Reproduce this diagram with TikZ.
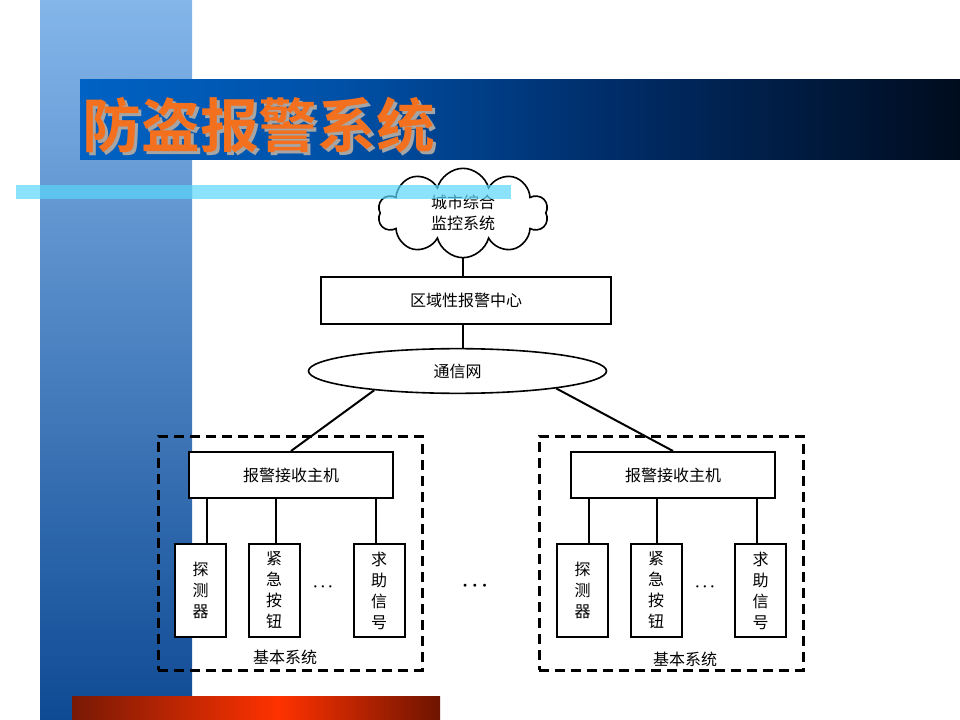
\documentclass[tikz,border=0pt]{standalone}
\usepackage{fontspec}
\setmainfont{Noto Sans CJK SC}
\newfontfamily\titlefont{Noto Sans CJK SC Bold}
\usetikzlibrary{shapes.geometric,shapes.symbols,positioning}

% 顏色
\definecolor{stripTop}{RGB}{132,182,234}
\definecolor{stripBot}{RGB}{14,74,148}
\definecolor{barCyan}{RGB}{90,215,250}
\definecolor{titleOrange}{RGB}{242,112,30}
\definecolor{titleShadow}{RGB}{165,165,165}
\definecolor{bandA}{RGB}{0,98,196}
\definecolor{bandB}{RGB}{0,80,166}
\definecolor{bandC}{RGB}{0,45,105}
\definecolor{bandD}{RGB}{0,12,30}
\definecolor{redA}{RGB}{120,25,5}
\definecolor{redB}{RGB}{255,50,0}
\definecolor{redC}{RGB}{110,20,0}

\pgfdeclarehorizontalshading{titleband}{100bp}{color(0bp)=(bandA); color(25bp)=(bandA);
  color(40bp)=(bandB); color(55bp)=(bandC); color(75bp)=(bandD); color(100bp)=(bandD)}
\pgfdeclarehorizontalshading{redbar}{100bp}{color(0bp)=(redA); color(25bp)=(redA);
  color(53bp)=(redB); color(75bp)=(redC); color(100bp)=(redC)}

\newcommand\diagfont{\fontsize{12pt}{15.75pt}\selectfont}

\tikzset{
  mainbox/.style={draw, line width=1.5pt, fill=white, inner sep=0pt, font=\diagfont},
  itembox/.style={mainbox, minimum width=38.25pt, minimum height=69.75pt, align=center},
  hostbox/.style={mainbox, minimum width=153pt, minimum height=34.5pt},
  groupbox/.style={draw, line width=2.25pt, dash pattern=on 7.5pt off 4.5pt,
    minimum width=198pt, minimum height=175.5pt, inner sep=0pt},
  link/.style={line width=1.5pt},
  dotstext/.style={font=\fontsize{11pt}{11pt}\selectfont\boldmath}
}

\begin{document}
\begin{tikzpicture}[x=0.75pt, y=-0.75pt]
    \useasboundingbox (0,0) rectangle (960,720);

    % 背景
    \shade[top color=stripTop, bottom color=stripBot] (40,0) rectangle (192,720);
    \shade[shading=titleband] (80,80) rectangle (960,160);
    \shade[shading=redbar] (72,696) rectangle (440,720);

    % 標題
    \node[anchor=west, text=titleShadow, font=\titlefont\fontsize{44pt}{44pt}\selectfont] at (81,128) {防盗报警系统};
    \node[anchor=west, text=titleOrange, font=\titlefont\fontsize{44pt}{44pt}\selectfont] (title) at (78,125) {防盗报警系统};

    % 上層
    \node[cloud, cloud puffs=10, aspect=2, draw, line width=1.2pt, fill=white,
      minimum width=127.5pt, minimum height=67pt, inner sep=0pt,
      align=center, font=\diagfont] (cloud) at (463,213) {城市综合\\监控系统};
    \fill[barCyan, opacity=0.7] (16,185) rectangle (511,199);

    \node[mainbox, minimum width=217.5pt, minimum height=34.5pt] (region) at (466,300.5) {区域性报警中心};
    \node[ellipse, draw, line width=1.2pt, fill=white, inner sep=0pt,
      minimum width=223.5pt, minimum height=33.5pt, font=\diagfont] (net) at (457.5,371) {通信网};

    % 基本系統 (左)
    \node[groupbox] (groupL) at (290,553) {};
    \node[hostbox] (hostL) at (291,475) {报警接收主机};
    \node[itembox] (detL) at (200.5,590.5) {探\\测\\器};
    \node[itembox] (btnL) at (274,590.5) {紧\\急\\按\\钮};
    \node[itembox] (sosL) at (379,590.5) {求\\助\\信\\号};
    \node[dotstext] (dotsL) at (323,587) {$\cdots$};
    \node[font=\diagfont] (baseL) at (285,657) {基本系统};

    % 基本系統 (右)
    \node[groupbox] (groupR) at (671,553) {};
    \node[hostbox] (hostR) at (673,475) {报警接收主机};
    \node[itembox] (detR) at (582.5,590.5) {探\\测\\器};
    \node[itembox] (btnR) at (656,590.5) {紧\\急\\按\\钮};
    \node[itembox] (sosR) at (760.5,590.5) {求\\助\\信\\号};
    \node[dotstext] (dotsR) at (705,587) {$\cdots$};
    \node[font=\diagfont] (baseR) at (685,659) {基本系统};

    \node[font=\Large\boldmath] (dotsM) at (475,586) {$\cdots$};

    % 連線
    \draw[link] (cloud.south) -- (cloud.south |- region.north);
    \draw[link] (region.south -| cloud.south) -- (net.north -| cloud.south);
    \draw[link] (net.193) -- (hostL.north);
    \draw[link] (net.350) -- (hostR.north);
    \foreach \g/\s in {detL/5pt, btnL/1.5pt, sosL/-2.5pt, detR/5pt, btnR/1pt, sosR/-2.5pt} {
        \draw[link] ([xshift=\s]\g.north) -- ([xshift=\s]\g.north |- hostL.south);
    }
\end{tikzpicture}
\end{document}
